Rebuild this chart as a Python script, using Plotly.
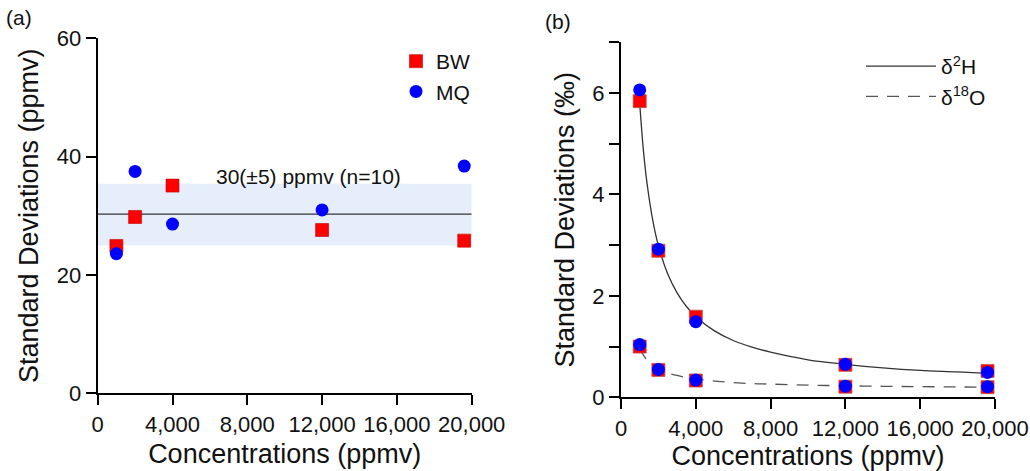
import plotly.graph_objects as go

# ---------------- data ----------------
conc = [1000, 2000, 4000, 12000, 19600]

# panel (a): standard deviations of water vapour concentration (ppmv)
a_bw = [24.9, 29.8, 35.1, 27.6, 25.8]
a_mq = [23.6, 37.5, 28.6, 31.0, 38.4]
a_mean = 30.3
a_band = [25.0, 35.4]
a_note = "30(±5) ppmv (n=10)"

# panel (b): standard deviations of isotope ratios (‰)
h_bw = [5.84, 2.89, 1.59, 0.64, 0.52]
h_mq = [6.06, 2.92, 1.49, 0.65, 0.49]
o_bw = [1.00, 0.54, 0.33, 0.21, 0.20]
o_mq = [1.04, 0.55, 0.34, 0.22, 0.21]

# fitted curves
fit_x = [1000, 1200, 1400, 1700, 2000, 2500, 3000, 3500, 4000, 5000, 6000,
         7000, 8000, 10000, 12000, 14000, 16000, 18000, 19600]
fit_h = [5.80, 4.86, 4.20, 3.49, 2.99, 2.43, 2.06, 1.79, 1.59, 1.31, 1.12,
         0.99, 0.89, 0.74, 0.65, 0.58, 0.53, 0.50, 0.47]
fit_o = [0.96, 0.83, 0.73, 0.63, 0.56, 0.48, 0.43, 0.39, 0.36, 0.32, 0.29,
         0.27, 0.26, 0.24, 0.227, 0.217, 0.21, 0.204, 0.20]

x_ticks = [0, 4000, 8000, 12000, 16000, 20000]
x_ticktext = ["0", "4,000", "8,000", "12,000", "16,000", "20,000"]
a_yticks = [0, 20, 40, 60]
b_yticks = [0, 2, 4, 6]
b_yminor = [1, 3, 5, 7]

# ---------------- style ----------------
FONT = "Liberation Sans, Arial, sans-serif"
RED = "#ff0000"
BLUE = "#0000ff"
W, H = 1030, 471

fig = go.Figure()

# panel (a)
fig.add_trace(go.Scatter(x=conc, y=a_bw, mode="markers", name="BW",
                         marker=dict(symbol="square", size=13, color=RED,
                                     line=dict(width=0.6, color="#c00000")),
                         xaxis="x", yaxis="y", legend="legend"))
fig.add_trace(go.Scatter(x=conc, y=a_mq, mode="markers", name="MQ",
                         marker=dict(symbol="circle", size=13, color=BLUE,
                                     line=dict(width=0)),
                         xaxis="x", yaxis="y", legend="legend"))

# panel (b) fit lines
fig.add_trace(go.Scatter(x=fit_x, y=fit_h, mode="lines", name="δ<sup>2</sup>H",
                         line=dict(color="#333333", width=1.3, shape="spline"),
                         xaxis="x2", yaxis="y2", legend="legend2"))
fig.add_trace(go.Scatter(x=fit_x, y=fit_o, mode="lines", name="δ<sup>18</sup>O",
                         line=dict(color="#555555", width=1.3, shape="spline",
                                   dash="12px,9px"),
                         xaxis="x2", yaxis="y2", legend="legend2"))
# panel (b) points
for ys in (h_bw, o_bw):
    fig.add_trace(go.Scatter(x=conc, y=ys, mode="markers", showlegend=False,
                             marker=dict(symbol="square", size=13, color=RED,
                                         line=dict(width=0.8, color="#c05050")),
                             xaxis="x2", yaxis="y2"))
for ys in (h_mq, o_mq):
    fig.add_trace(go.Scatter(x=conc, y=ys, mode="markers", showlegend=False,
                             marker=dict(symbol="circle", size=13, color=BLUE,
                                         line=dict(width=0)),
                             xaxis="x2", yaxis="y2"))

# band and mean line in (a)
fig.add_shape(type="rect", xref="x", yref="y", x0=0, x1=20000,
              y0=a_band[0], y1=a_band[1], fillcolor="#e6eefc",
              line=dict(width=0), layer="below")
fig.add_shape(type="line", xref="x", yref="y", x0=0, x1=20000,
              y0=a_mean, y1=a_mean, line=dict(color="#333333", width=1.3),
              layer="below")

axis_common = dict(showline=True, linecolor="black", linewidth=2,
                   ticks="outside", ticklen=10, tickwidth=1.5, tickcolor="black",
                   showgrid=False, zeroline=False, mirror=False, automargin=False,
                   tickfont=dict(family=FONT, size=22, color="#111111"))
title_font = dict(family=FONT, size=27, color="#111111")

ya0, ya1 = 1 - 393.3 / H, 1 - 38.3 / H
yb0, yb1 = 1 - 397.3 / H, 1 - 42.3 / H

fig.update_layout(
    width=W, height=H,
    margin=dict(l=0, r=0, t=0, b=0),
    paper_bgcolor="white", plot_bgcolor="white",
    font=dict(family=FONT, color="#111111"),
    xaxis=dict(domain=[97.7 / W, 471.7 / W], range=[0, 20000],
               tickvals=x_ticks, ticktext=x_ticktext, anchor="y",
               title=dict(text="Concentrations (ppmv)", font=title_font, standoff=8),
               **axis_common),
    yaxis=dict(domain=[ya0, ya1], range=[0, 60], tickvals=a_yticks, anchor="x",
               title=dict(text="Standard Deviations (ppmv)", font=title_font, standoff=10),
               **axis_common),
    xaxis2=dict(domain=[621 / W, 995 / W], range=[0, 20000],
                tickvals=x_ticks, ticktext=x_ticktext, anchor="y2",
                title=dict(text="Concentrations (ppmv)", font=title_font, standoff=8),
                **axis_common),
    yaxis2=dict(domain=[yb0, yb1], range=[0, 7], tickvals=b_yticks, anchor="x2",
                minor=dict(tickvals=b_yminor, ticks="outside", ticklen=10,
                           tickwidth=1.5, tickcolor="black", showgrid=False),
                title=dict(text="Standard Deviations (‰)", font=title_font, standoff=10),
                **axis_common),
    legend=dict(x=396 / W, y=1 - 41 / H, xanchor="left", yanchor="top",
                bgcolor="rgba(0,0,0,0)", font=dict(family=FONT, size=21),
                itemsizing="trace", tracegroupgap=0),
    legend2=dict(x=861 / W, y=1 - 46 / H, xanchor="left", yanchor="top",
                 bgcolor="rgba(0,0,0,0)", font=dict(family=FONT, size=21),
                 itemwidth=70, tracegroupgap=0),
    annotations=[
        dict(text="(a)", xref="paper", yref="paper", x=19 / W, y=1 - 18 / H,
             xanchor="center", yanchor="middle",
             showarrow=False, font=dict(family=FONT, size=21)),
        dict(text="(b)", xref="paper", yref="paper", x=558 / W, y=1 - 22 / H,
             xanchor="center", yanchor="middle",
             showarrow=False, font=dict(family=FONT, size=21)),
        dict(text=a_note, xref="x", yref="y", x=11260, y=36.6,
             showarrow=False, font=dict(family=FONT, size=21)),
    ],
)

fig.write_html("out.html",
               config={"displayModeBar": False},
               post_script="document.body.style.margin='0';"
                           "document.body.style.overflow='hidden';")
